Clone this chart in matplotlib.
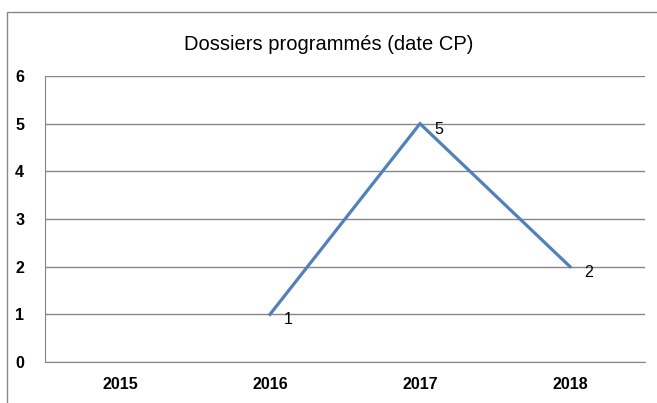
import matplotlib
matplotlib.use('Agg')
import matplotlib.pyplot as plt
from matplotlib.patches import Rectangle
import numpy as np

# données
years = ['2015', '2016', '2017', '2018']
values = [np.nan, 1, 5, 2]
labels = ['', '1', '5', '2']

plt.rcParams['font.family'] = ['Liberation Sans', 'DejaVu Sans']

fig = plt.figure(figsize=(6.57, 4.03), dpi=100)
ax = fig.add_axes([45/657, 1 - 362/403, 600/657, 286/403])

# cadre extérieur du graphique
fig.patches.append(Rectangle((7/657, -0.02), 1.2, 1 - 12/403 + 0.02,
                             transform=fig.transFigure, fill=False,
                             edgecolor='#888888', linewidth=1))

x = np.arange(len(years))
ax.plot(x, values, color='#4F81BD', linewidth=2.3, solid_joinstyle='miter')
for xi, v, lab in zip(x, values, labels):
    if lab:
        ax.annotate(lab, (xi, v), xytext=(10, -4), textcoords='offset points',
                    fontsize=11.5, va='center', ha='left')

ax.set_xlim(-0.5, 3.5)
ax.set_ylim(0, 6)
ax.set_yticks(range(7))
ax.set_xticks(x)
ax.set_xticklabels(years)
ax.grid(axis='y', color='#868686', linewidth=1)
ax.set_axisbelow(True)
for s in ['top', 'right']:
    ax.spines[s].set_visible(False)
ax.spines['left'].set_color('#868686')
ax.spines['bottom'].set_color('#868686')
ax.tick_params(length=0, labelsize=11.5)
ax.tick_params(axis='x', pad=11)
ax.tick_params(axis='y', pad=15)
for t in ax.get_xticklabels() + ax.get_yticklabels():
    t.set_fontweight('bold')

fig.text(0.5, 1 - 45/403, 'Dossiers programmés (date CP)', ha='center',
         va='center', fontsize=14.5)

fig.savefig('out.png', dpi=100)
